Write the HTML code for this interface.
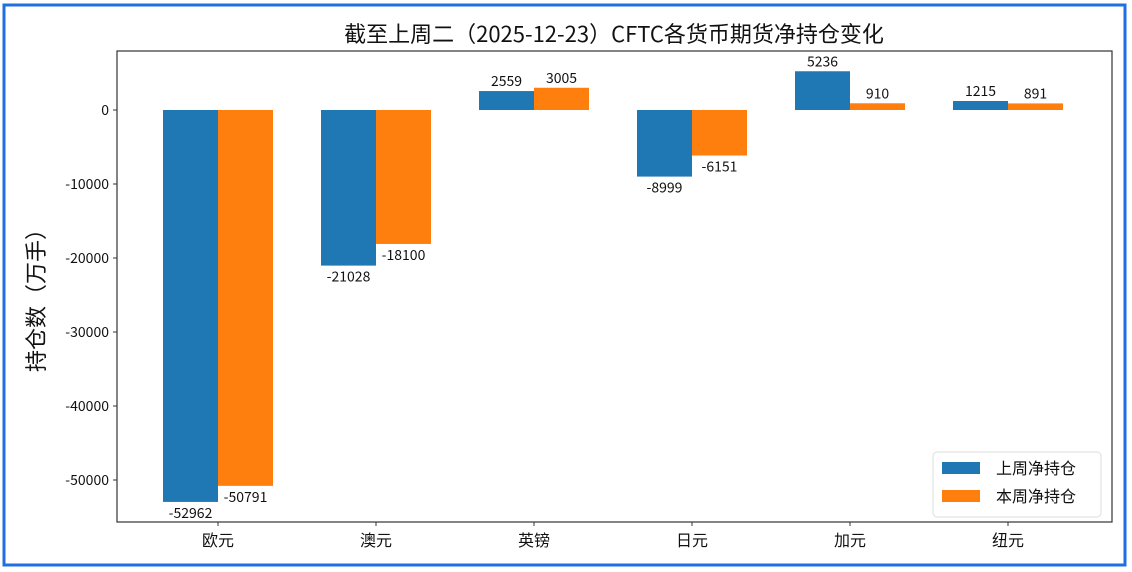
<!DOCTYPE html>
<html><head><meta charset="utf-8"><style>
body{margin:0;background:#fff;}
svg{display:block;font-family:"WenQuanYi Zen Hei","Noto Sans CJK SC",sans-serif;}
</style></head><body>
<svg width="1132" height="572">
<rect x="4" y="5" width="1121" height="560" fill="#fff" stroke="#1f6fe0" stroke-width="3"/>
<text x="614" y="42" font-size="22" text-anchor="middle" fill="#111">截至上周二（2025-12-23）CFTC各货币期货净持仓变化</text>
<g id="plot"></g>
<text transform="translate(44,295) rotate(-90)" font-size="22" text-anchor="middle" fill="#111">持仓数（万手）</text>
<g>
<rect x="933" y="452" width="168" height="65" rx="4" fill="#fff" stroke="#ddd"/>
<rect x="942" y="462" width="38" height="12" fill="#1f77b4"/>
<text x="996" y="474" font-size="16" fill="#111">上周净持仓</text>
<rect x="942" y="490" width="38" height="12" fill="#ff7f0e"/>
<text x="996" y="502" font-size="16" fill="#111">本周净持仓</text>
</g>
</svg>
<script>
const categories=["欧元","澳元","英镑","日元","加元","纽元"];
const lastWeek=[-52962,-21028,2559,-8999,5236,1215];
const thisWeek=[-50791,-18100,3005,-6151,910,891];
const yTicks=[0,-10000,-20000,-30000,-40000,-50000];
const NS="http://www.w3.org/2000/svg";
const g=document.getElementById('plot');
const L=117,R=1112,T=51,B=522;
const y=v=>110-v*0.0074;
const x=i=>218+158*i;
const bw=55;
function mk(t,a){const e=document.createElementNS(NS,t);for(const k in a)e.setAttribute(k,a[k]);g.appendChild(e);return e;}
yTicks.forEach(v=>{
 mk('line',{x1:L-4,x2:L,y1:y(v),y2:y(v),stroke:'#333'});
 const t=mk('text',{x:L-8,y:y(v)+5,'font-size':14,'text-anchor':'end',fill:'#111'});t.textContent=v;
 
 
});
categories.forEach((c,i)=>{
 mk('line',{x1:x(i),x2:x(i),y1:B,y2:B+4,stroke:'#333'});
 const t=mk('text',{x:x(i),y:B+24,'font-size':16,'text-anchor':'middle',fill:'#111'});t.textContent=c;
 
 
 [[lastWeek[i],'#1f77b4',-bw],[thisWeek[i],'#ff7f0e',0]].forEach(([v,col,off],k)=>{
  const y0=Math.min(y(0),y(v)),h=Math.abs(y(v)-y(0));
  const r=mk('rect',{x:x(i)+off,y:y0,width:bw,height:h,fill:col});
  
  
  const lx=x(i)+off+bw/2, ly=v>=0?y(v)-5:y(v)+16;
  const tt=mk('text',{x:lx,y:ly,'font-size':14,'text-anchor':'middle',fill:'#111'});tt.textContent=v;
  
  
 });
});
const ax=mk('rect',{x:L,y:T,width:R-L,height:B-T,fill:'none',stroke:'#333','stroke-width':1.2});


</script>
</body></html>
